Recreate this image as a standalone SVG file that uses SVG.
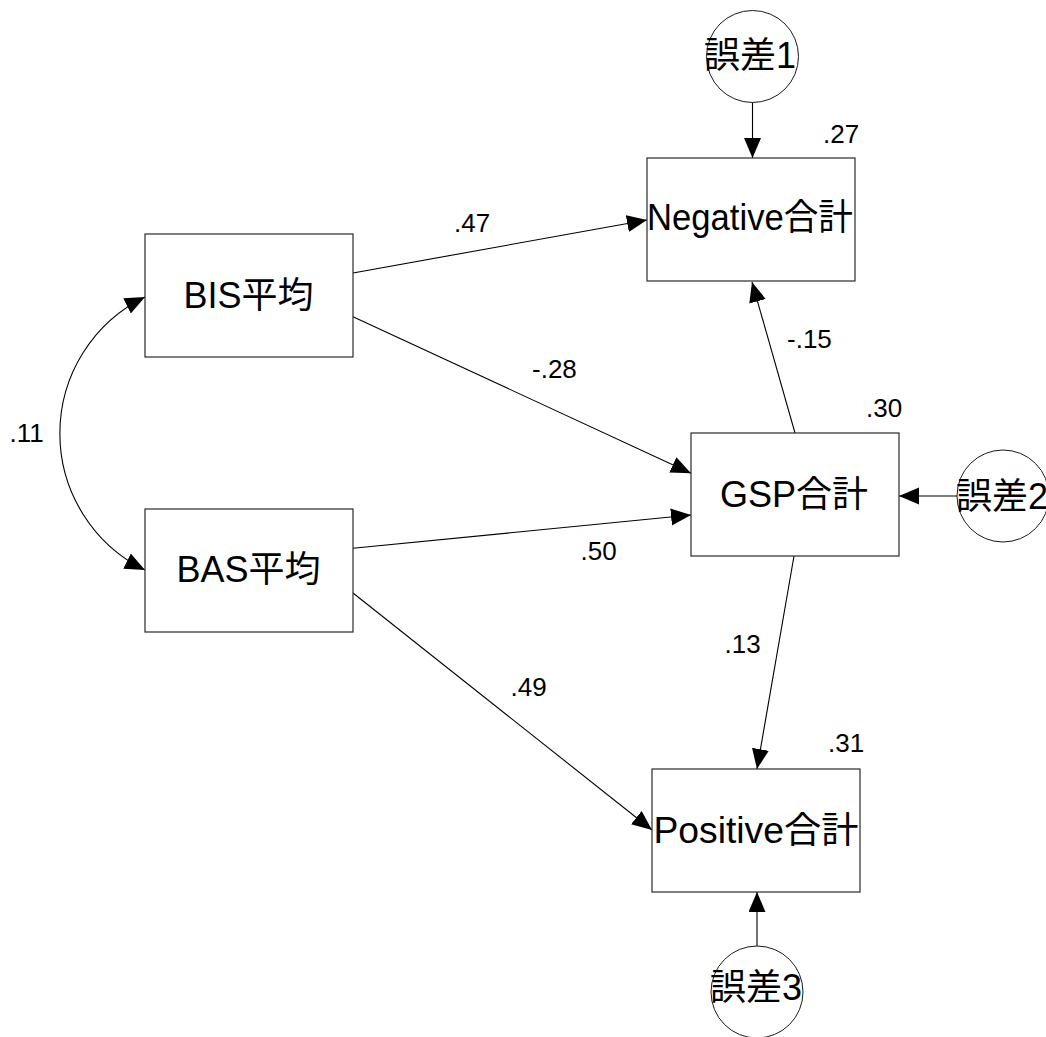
<svg xmlns="http://www.w3.org/2000/svg" width="1046" height="1037" viewBox="0 0 1046 1037">
  <style>
    .box { fill: #ffffff; stroke: #2a2a2a; stroke-width: 1.2; }
    .err { fill: #ffffff; stroke: #1a1a1a; stroke-width: 1; }
    .edge { fill: none; stroke: #000000; stroke-width: 1.1; }
    .lbl { font-family: "Liberation Sans", "Noto Sans CJK JP", sans-serif; font-size: 36px; fill: #000000; text-anchor: middle; }
    .num { font-family: "Liberation Sans", sans-serif; font-size: 26px; fill: #000000; }
  </style>
  <defs>
    <marker id="arrow" markerUnits="userSpaceOnUse" markerWidth="21" markerHeight="18" refX="20" refY="8.5" orient="auto-start-reverse">
      <path d="M0,0 L20,8.5 L0,17 Z" fill="#000000"/>
    </marker>
  </defs>

  <!-- paths, covariance and residual arrows -->
  <g id="connectors">
    <path class="edge" d="M145,570 A152,152 0 0 1 145,297" marker-start="url(#arrow)" marker-end="url(#arrow)"/>
    <path class="edge" d="M353,273 L647,220" marker-end="url(#arrow)"/>
    <path class="edge" d="M353,316.7 L691,473.3" marker-end="url(#arrow)"/>
    <path class="edge" d="M353,548.3 L691,515" marker-end="url(#arrow)"/>
    <path class="edge" d="M353,593 L652,830" marker-end="url(#arrow)"/>
    <path class="edge" d="M795,433 L752,282" marker-end="url(#arrow)"/>
    <path class="edge" d="M794,556 L757,769" marker-end="url(#arrow)"/>
    <path class="edge" d="M752.5,102.5 L752.5,158" marker-end="url(#arrow)"/>
    <path class="edge" d="M957,496 L899,496" marker-end="url(#arrow)"/>
    <path class="edge" d="M757,946 L757,892" marker-end="url(#arrow)"/>
  </g>

  <!-- path coefficients -->
  <g id="coefficients">
    <text class="num" x="9.5" y="442">.11</text>
    <text class="num" x="454" y="232">.47</text>
    <text class="num" x="532" y="378">-.28</text>
    <text class="num" x="787" y="348">-.15</text>
    <text class="num" x="580.5" y="560">.50</text>
    <text class="num" x="724.5" y="653">.13</text>
    <text class="num" x="510.5" y="696">.49</text>
  </g>

  <!-- observed variables -->
  <g id="node-bis">
    <rect class="box" x="145" y="234" width="208" height="123"/>
    <text class="lbl" x="248.5" y="308">BIS平均</text>
  </g>
  <g id="node-bas">
    <rect class="box" x="145" y="509" width="208" height="123"/>
    <text class="lbl" x="248.5" y="582">BAS平均</text>
  </g>
  <g id="node-negative">
    <rect class="box" x="647" y="158" width="208" height="123"/>
    <text class="lbl" x="750" y="230" textLength="206" lengthAdjust="spacingAndGlyphs">Negative合計</text>
    <text class="num" x="823" y="143">.27</text>
  </g>
  <g id="node-gsp">
    <rect class="box" x="691" y="433" width="208" height="123"/>
    <text class="lbl" x="794" y="507">GSP合計</text>
    <text class="num" x="866" y="417">.30</text>
  </g>
  <g id="node-positive">
    <rect class="box" x="652" y="769" width="208" height="123"/>
    <text class="lbl" x="756" y="843" textLength="205" lengthAdjust="spacingAndGlyphs">Positive合計</text>
    <text class="num" x="828" y="752">.31</text>
  </g>

  <!-- error terms -->
  <g id="node-e1">
    <circle class="err" cx="752.5" cy="56.5" r="46"/>
    <text class="lbl" x="750" y="68">誤差1</text>
  </g>
  <g id="node-e2">
    <circle class="err" cx="1003" cy="496" r="46"/>
    <text class="lbl" x="1002" y="509">誤差2</text>
  </g>
  <g id="node-e3">
    <circle class="err" cx="757" cy="992" r="46"/>
    <text class="lbl" x="756" y="1000">誤差3</text>
  </g>
</svg>
